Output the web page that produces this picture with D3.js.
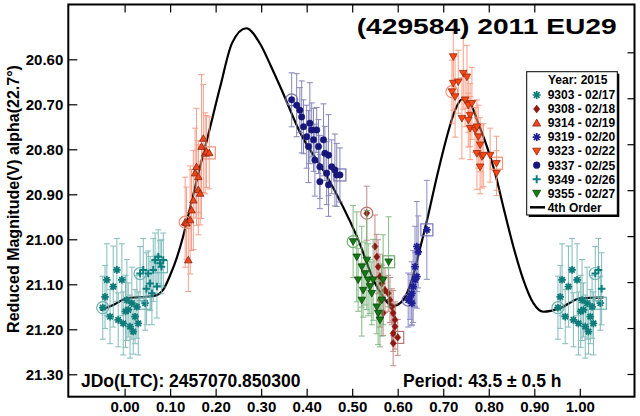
<!DOCTYPE html>
<html>
<head>
<meta charset="utf-8">
<script src="https://cdn.jsdelivr.net/npm/d3@7"></script>
<style>
  html, body { margin: 0; padding: 0; background: #fff; }
  svg { display: block; font-family: "Liberation Sans", Arial, sans-serif; font-weight: bold; }
</style>
</head>
<body>
<svg id="chart" width="640" height="416"></svg>
<script>
// [phase, reduced mag, error] per session
const s9303 = [
  [0.952, 21.152, 0.07], [0.957, 21.128, 0.07], [0.961, 21.090, 0.08], [0.968, 21.172, 0.06],
  [0.975, 21.105, 0.09], [0.983, 21.068, 0.07], [0.986, 21.179, 0.06], [0.994, 21.090, 0.08],
  [0.997, 21.187, 0.07], [0.002, 21.160, 0.08], [0.005, 21.135, 0.09], [0.008, 21.157, 0.06],
  [0.012, 21.194, 0.07], [0.016, 21.142, 0.08], [0.019, 21.205, 0.05], [0.023, 21.172, 0.06],
  [0.027, 21.150, 0.07], [0.030, 21.187, 0.07], [0.045, 21.142, 0.06]
];
const s9308 = [
  [0.532, 20.942, 0.06], [0.550, 21.016, 0.07], [0.554, 21.039, 0.05], [0.557, 21.061, 0.06],
  [0.561, 21.083, 0.05], [0.561, 21.135, 0.06], [0.565, 21.098, 0.04], [0.568, 21.164, 0.05],
  [0.572, 21.113, 0.05], [0.579, 21.120, 0.04], [0.583, 21.135, 0.05], [0.587, 21.150, 0.04],
  [0.590, 21.164, 0.05], [0.594, 21.179, 0.04], [0.594, 21.194, 0.05], [0.590, 21.209, 0.04],
  [0.590, 21.231, 0.05], [0.600, 21.218, 0.04]
];
const s9314 = [
  [0.133, 20.962, 0.10], [0.136, 20.964, 0.08], [0.140, 21.046, 0.07], [0.144, 20.957, 0.12],
  [0.147, 20.935, 0.09], [0.151, 20.913, 0.11], [0.155, 20.853, 0.10], [0.158, 20.839, 0.13],
  [0.162, 20.861, 0.08], [0.162, 20.890, 0.10], [0.166, 20.898, 0.07], [0.169, 20.794, 0.16],
  [0.173, 20.776, 0.12], [0.177, 20.809, 0.09], [0.180, 20.805, 0.08], [0.186, 20.808, 0.08]
];
const s9319 = [
  [0.623, 21.135, 0.06], [0.627, 21.128, 0.05], [0.631, 21.120, 0.07], [0.631, 21.142, 0.05],
  [0.634, 21.105, 0.08], [0.638, 21.090, 0.06], [0.638, 21.061, 0.09], [0.642, 21.083, 0.07],
  [0.642, 21.016, 0.10], [0.645, 21.028, 0.08], [0.664, 20.979, 0.11]
];
const s9323 = [
  [0.719, 20.672, 0.07], [0.722, 20.594, 0.08], [0.722, 20.653, 0.06], [0.726, 20.683, 0.09],
  [0.733, 20.650, 0.07], [0.744, 20.631, 0.08], [0.748, 20.690, 0.06], [0.752, 20.639, 0.07],
  [0.741, 20.731, 0.09], [0.755, 20.702, 0.06], [0.759, 20.724, 0.07], [0.763, 20.698, 0.08],
  [0.755, 20.735, 0.06], [0.759, 20.753, 0.07], [0.770, 20.757, 0.05], [0.774, 20.750, 0.06],
  [0.777, 20.772, 0.07], [0.781, 20.790, 0.06], [0.774, 20.809, 0.08], [0.785, 20.816, 0.07],
  [0.781, 20.839, 0.06], [0.788, 20.813, 0.07], [0.803, 20.813, 0.06], [0.817, 20.853, 0.05],
  [0.817, 20.831, 0.06]
];
const s9337 = [
  [0.367, 20.690, 0.06], [0.378, 20.702, 0.07], [0.385, 20.713, 0.05], [0.389, 20.728, 0.08],
  [0.393, 20.750, 0.06], [0.400, 20.772, 0.07], [0.407, 20.742, 0.09], [0.411, 20.757, 0.06],
  [0.404, 20.794, 0.08], [0.415, 20.779, 0.07], [0.422, 20.757, 0.05], [0.426, 20.794, 0.06],
  [0.418, 20.824, 0.08], [0.429, 20.839, 0.07], [0.437, 20.779, 0.08], [0.440, 20.809, 0.06],
  [0.444, 20.853, 0.07], [0.448, 20.813, 0.09], [0.429, 20.872, 0.06], [0.448, 20.879, 0.07],
  [0.455, 20.839, 0.06], [0.462, 20.846, 0.08], [0.466, 20.857, 0.07], [0.473, 20.857, 0.06]
];
const s9349 = [
  [0.034, 21.076, 0.06], [0.041, 21.068, 0.07], [0.048, 21.110, 0.08], [0.052, 21.076, 0.05],
  [0.056, 21.098, 0.06], [0.060, 21.120, 0.07], [0.063, 21.068, 0.07], [0.067, 21.046, 0.06],
  [0.071, 21.105, 0.07], [0.074, 21.039, 0.06], [0.078, 21.053, 0.05], [0.085, 21.046, 0.06],
  [0.081, 21.061, 0.06]
];
const s9355 = [
  [0.502, 21.005, 0.08], [0.510, 21.039, 0.10], [0.513, 21.090, 0.07], [0.521, 21.061, 0.09],
  [0.524, 21.113, 0.06], [0.521, 21.135, 0.08], [0.528, 21.076, 0.07], [0.532, 21.046, 0.11],
  [0.535, 21.090, 0.08], [0.539, 21.105, 0.06], [0.543, 21.120, 0.07], [0.546, 21.090, 0.09],
  [0.554, 21.150, 0.06], [0.557, 21.164, 0.07], [0.561, 21.179, 0.06], [0.565, 21.135, 0.08],
  [0.568, 21.090, 0.10], [0.580, 21.050, 0.10]
];

// 4th order fit
const fitPhase = [-0.053, -0.025, 0.005, 0.027, 0.049, 0.071, 0.085, 0.100, 0.115, 0.129, 0.144,
  0.160, 0.181, 0.210, 0.236, 0.267, 0.298, 0.320, 0.342, 0.386, 0.445, 0.510, 0.554, 0.591, 0.612,
  0.631, 0.648, 0.665, 0.686, 0.708, 0.726, 0.741, 0.759, 0.777, 0.796, 0.814, 0.832, 0.854, 0.876,
  0.898, 0.920, 0.957, 1.001, 1.052];
const fitMag = [21.157, 21.146, 21.131, 21.129, 21.128, 21.124, 21.112, 21.080, 21.040, 20.992, 20.930,
  20.862, 20.779, 20.661, 20.564, 20.531, 20.566, 20.612, 20.661, 20.764, 20.861, 20.993, 21.105, 21.148, 21.135,
  21.090, 21.025, 20.955, 20.861, 20.772, 20.713, 20.689, 20.698, 20.742, 20.794, 20.853, 20.928, 21.016, 21.090,
  21.142, 21.161, 21.153, 21.131, 21.129];

const xTicks = [0, 0.1, 0.2, 0.3, 0.4, 0.5, 0.6, 0.7, 0.8, 0.9, 1.0];
const topTicks = [0, 0.1, 0.2, 0.3, 0.4, 0.5, 0.6, 0.7, 0.8, 0.9];
const yTicks = [20.6, 20.7, 20.8, 20.9, 21.0, 21.1, 21.2, 21.3];

const sessions = [
  { label: "9303 - 02/17", shape: "star", color: "#0e7c7b", data: s9303 },
  { label: "9308 - 02/18", shape: "diamond", color: "#8b1a12", data: s9308 },
  { label: "9314 - 02/19", shape: "up", color: "#f0441a", data: s9314 },
  { label: "9319 - 02/20", shape: "star", color: "#1e1e96", data: s9319 },
  { label: "9323 - 02/22", shape: "down", color: "#ff4614", data: s9323 },
  { label: "9337 - 02/25", shape: "circle", color: "#16167a", data: s9337 },
  { label: "9349 - 02/26", shape: "plus", color: "#0b7f80", data: s9349 },
  { label: "9355 - 02/27", shape: "down", color: "#137a13", data: s9355 }
];

const svg = d3.select("#chart");
const plot = { left: 68.3, top: 4.5, right: 634.5, bottom: 396.7 };

const x = d3.scaleLinear().domain([0, 1]).range([124.6, 579.8]);
const y = d3.scaleLinear().domain([20.6, 21.3]).range([59.3, 374.3]);
const yRight = d3.scaleLinear().domain([20.6, 21.3]).range([52.3, 374]);

svg.append("defs").append("clipPath").attr("id", "clip")
  .append("rect")
  .attr("x", plot.left).attr("y", plot.top)
  .attr("width", plot.right - plot.left).attr("height", plot.bottom - plot.top);

function markerPath(shape, s) {
  const p = d3.path();
  const k = s * 0.72;
  if (shape === "star") {
    p.moveTo(-s, 0); p.lineTo(s, 0);
    p.moveTo(0, -s); p.lineTo(0, s);
    p.moveTo(-k, -k); p.lineTo(k, k);
    p.moveTo(-k, k); p.lineTo(k, -k);
  } else if (shape === "plus") {
    p.moveTo(-s, 0); p.lineTo(s, 0);
    p.moveTo(0, -s); p.lineTo(0, s);
  } else if (shape === "diamond") {
    p.moveTo(0, -s); p.lineTo(s * 0.8, 0); p.lineTo(0, s); p.lineTo(-s * 0.8, 0); p.closePath();
  } else if (shape === "up") {
    p.moveTo(0, -s); p.lineTo(s, s * 0.75); p.lineTo(-s, s * 0.75); p.closePath();
  } else if (shape === "down") {
    p.moveTo(0, s); p.lineTo(s, -s * 0.75); p.lineTo(-s, -s * 0.75); p.closePath();
  } else {
    p.arc(0, 0, s * 0.85, 0, 2 * Math.PI);
  }
  return p.toString();
}

function styleMarker(sel, shape, color) {
  if (shape === "star" || shape === "plus") {
    sel.attr("fill", "none").attr("stroke", color).attr("stroke-width", shape === "plus" ? 2 : 1.7);
  } else if (shape === "up" || shape === "down") {
    sel.attr("fill", color).attr("stroke", d3.color(color).darker(1.6)).attr("stroke-width", 0.8);
  } else {
    sel.attr("fill", color).attr("stroke", color).attr("stroke-width", 0.5);
  }
}

// copies across the phase wrap, like the original plot from -0.05 to 1.05
function wrapped(data) {
  const out = [];
  data.forEach((d, i) => {
    const pt = { p: d[0], m: d[1], e: d[2], first: i === 0, last: i === data.length - 1 };
    out.push(pt);
    if (pt.p < 0.05) out.push({ ...pt, p: pt.p + 1 });
    if (pt.p > 0.95) out.push({ ...pt, p: pt.p - 1 });
  });
  return out;
}

const chart = svg.append("g").attr("clip-path", "url(#clip)");

// fit curve
const fit = fitPhase.map((p, i) => [p, fitMag[i]]);
chart.append("path")
  .datum(fit)
  .attr("fill", "none")
  .attr("stroke", "#000")
  .attr("stroke-width", 2.2)
  .attr("d", d3.line().x(d => x(d[0])).y(d => y(d[1])).curve(d3.curveMonotoneX));

sessions.forEach(s => {
  const pts = wrapped(s.data);
  const light = d3.interpolateRgb(s.color, "#ffffff")(0.4);
  const g = chart.append("g");

  const bars = g.append("g").attr("stroke", light).attr("stroke-width", 1).attr("opacity", 0.85);
  bars.selectAll("line.v").data(pts).join("line").attr("class", "v")
    .attr("x1", d => x(d.p)).attr("x2", d => x(d.p))
    .attr("y1", d => y(d.m - d.e)).attr("y2", d => y(d.m + d.e));
  bars.selectAll("line.t").data(pts).join("line").attr("class", "t")
    .attr("x1", d => x(d.p) - 3).attr("x2", d => x(d.p) + 3)
    .attr("y1", d => y(d.m - d.e)).attr("y2", d => y(d.m - d.e));
  bars.selectAll("line.b").data(pts).join("line").attr("class", "b")
    .attr("x1", d => x(d.p) - 3).attr("x2", d => x(d.p) + 3)
    .attr("y1", d => y(d.m + d.e)).attr("y2", d => y(d.m + d.e));

  // open circle on first point, open square on last
  g.selectAll("circle.ring").data(pts.filter(d => d.first)).join("circle").attr("class", "ring")
    .attr("cx", d => x(d.p)).attr("cy", d => y(d.m)).attr("r", 6)
    .attr("fill", "none").attr("stroke", light).attr("stroke-width", 1.2);
  g.selectAll("rect.ring").data(pts.filter(d => d.last)).join("rect").attr("class", "ring")
    .attr("x", d => x(d.p) - 6).attr("y", d => y(d.m) - 6).attr("width", 12).attr("height", 12)
    .attr("fill", "none").attr("stroke", light).attr("stroke-width", 1.2);

  g.selectAll("path.mk").data(pts).join("path").attr("class", "mk")
    .attr("transform", d => `translate(${x(d.p)},${y(d.m)})`)
    .attr("d", markerPath(s.shape, 3.8))
    .call(styleMarker, s.shape, s.color);
});

// axes
const axLeft = svg.append("g").attr("transform", `translate(${plot.left},0)`)
  .call(d3.axisLeft(y).tickValues(yTicks).tickFormat(d3.format(".2f")).tickSize(-9).tickPadding(5));
const axBottom = svg.append("g").attr("transform", `translate(0,${plot.bottom})`)
  .call(d3.axisBottom(x).tickValues(xTicks).tickFormat(d3.format(".2f")).tickSize(-8).tickPadding(5));
const axTop = svg.append("g").attr("transform", `translate(0,${plot.top})`)
  .call(d3.axisTop(x).tickValues(topTicks).tickFormat("").tickSize(-8));
const axRight = svg.append("g").attr("transform", `translate(${plot.right},0)`)
  .call(d3.axisRight(yRight).tickValues(yTicks).tickFormat("").tickSize(-7));

[axLeft, axBottom, axTop, axRight].forEach(a => {
  a.select(".domain").remove();
  a.attr("font-family", null).attr("font-size", null);
  a.selectAll("line").attr("stroke", "#000").attr("stroke-width", 1.2);
  a.selectAll("text").attr("fill", "#000").style("font-size", "15px");
});

svg.append("rect")
  .attr("x", plot.left).attr("y", plot.top)
  .attr("width", plot.right - plot.left).attr("height", plot.bottom - plot.top)
  .attr("fill", "none").attr("stroke", "#000").attr("stroke-width", 2);

// texts
svg.append("text")
  .attr("transform", "translate(18.5,199) rotate(-90)")
  .attr("text-anchor", "middle")
  .style("font-size", "16px")
  .text("Reduced Magnitude(V) alpha(22.7°)");

svg.append("text")
  .attr("x", 356.7).attr("y", 34.3)
  .attr("textLength", 260).attr("lengthAdjust", "spacingAndGlyphs")
  .style("font-size", "21.5px")
  .text("(429584) 2011 EU29");

svg.append("text").attr("x", 81).attr("y", 386.5).style("font-size", "17.5px")
  .text("JDo(LTC): 2457070.850300");
svg.append("text").attr("x", 403).attr("y", 387).style("font-size", "17.5px")
  .text("Period: 43.5 ± 0.5 h");

// legend
const lg = { x: 526.7, y: 71.7, w: 90.6, h: 143.3 };
svg.append("rect").attr("x", lg.x + 2).attr("y", lg.y + 2).attr("width", lg.w).attr("height", lg.h).attr("fill", "#000");
svg.append("rect").attr("x", lg.x).attr("y", lg.y).attr("width", lg.w).attr("height", lg.h)
  .attr("fill", "#fff").attr("stroke", "#000").attr("stroke-width", 1);
svg.append("text").attr("x", 548).attr("y", 83.5).style("font-size", "12px").text("Year: 2015");

const rowY = i => 95 + i * 14.04;
sessions.forEach((s, i) => {
  svg.append("path")
    .attr("transform", `translate(536.7,${rowY(i)})`)
    .attr("d", markerPath(s.shape, 4))
    .call(styleMarker, s.shape, s.color);
  svg.append("text").attr("x", 547.7).attr("y", rowY(i) + 4.3).style("font-size", "12px").text(s.label);
});
svg.append("line").attr("x1", 530).attr("x2", 545).attr("y1", rowY(8)).attr("y2", rowY(8))
  .attr("stroke", "#000").attr("stroke-width", 2.5);
svg.append("text").attr("x", 547.7).attr("y", rowY(8) + 4.3).style("font-size", "12px").text("4th Order");
</script>
</body>
</html>
